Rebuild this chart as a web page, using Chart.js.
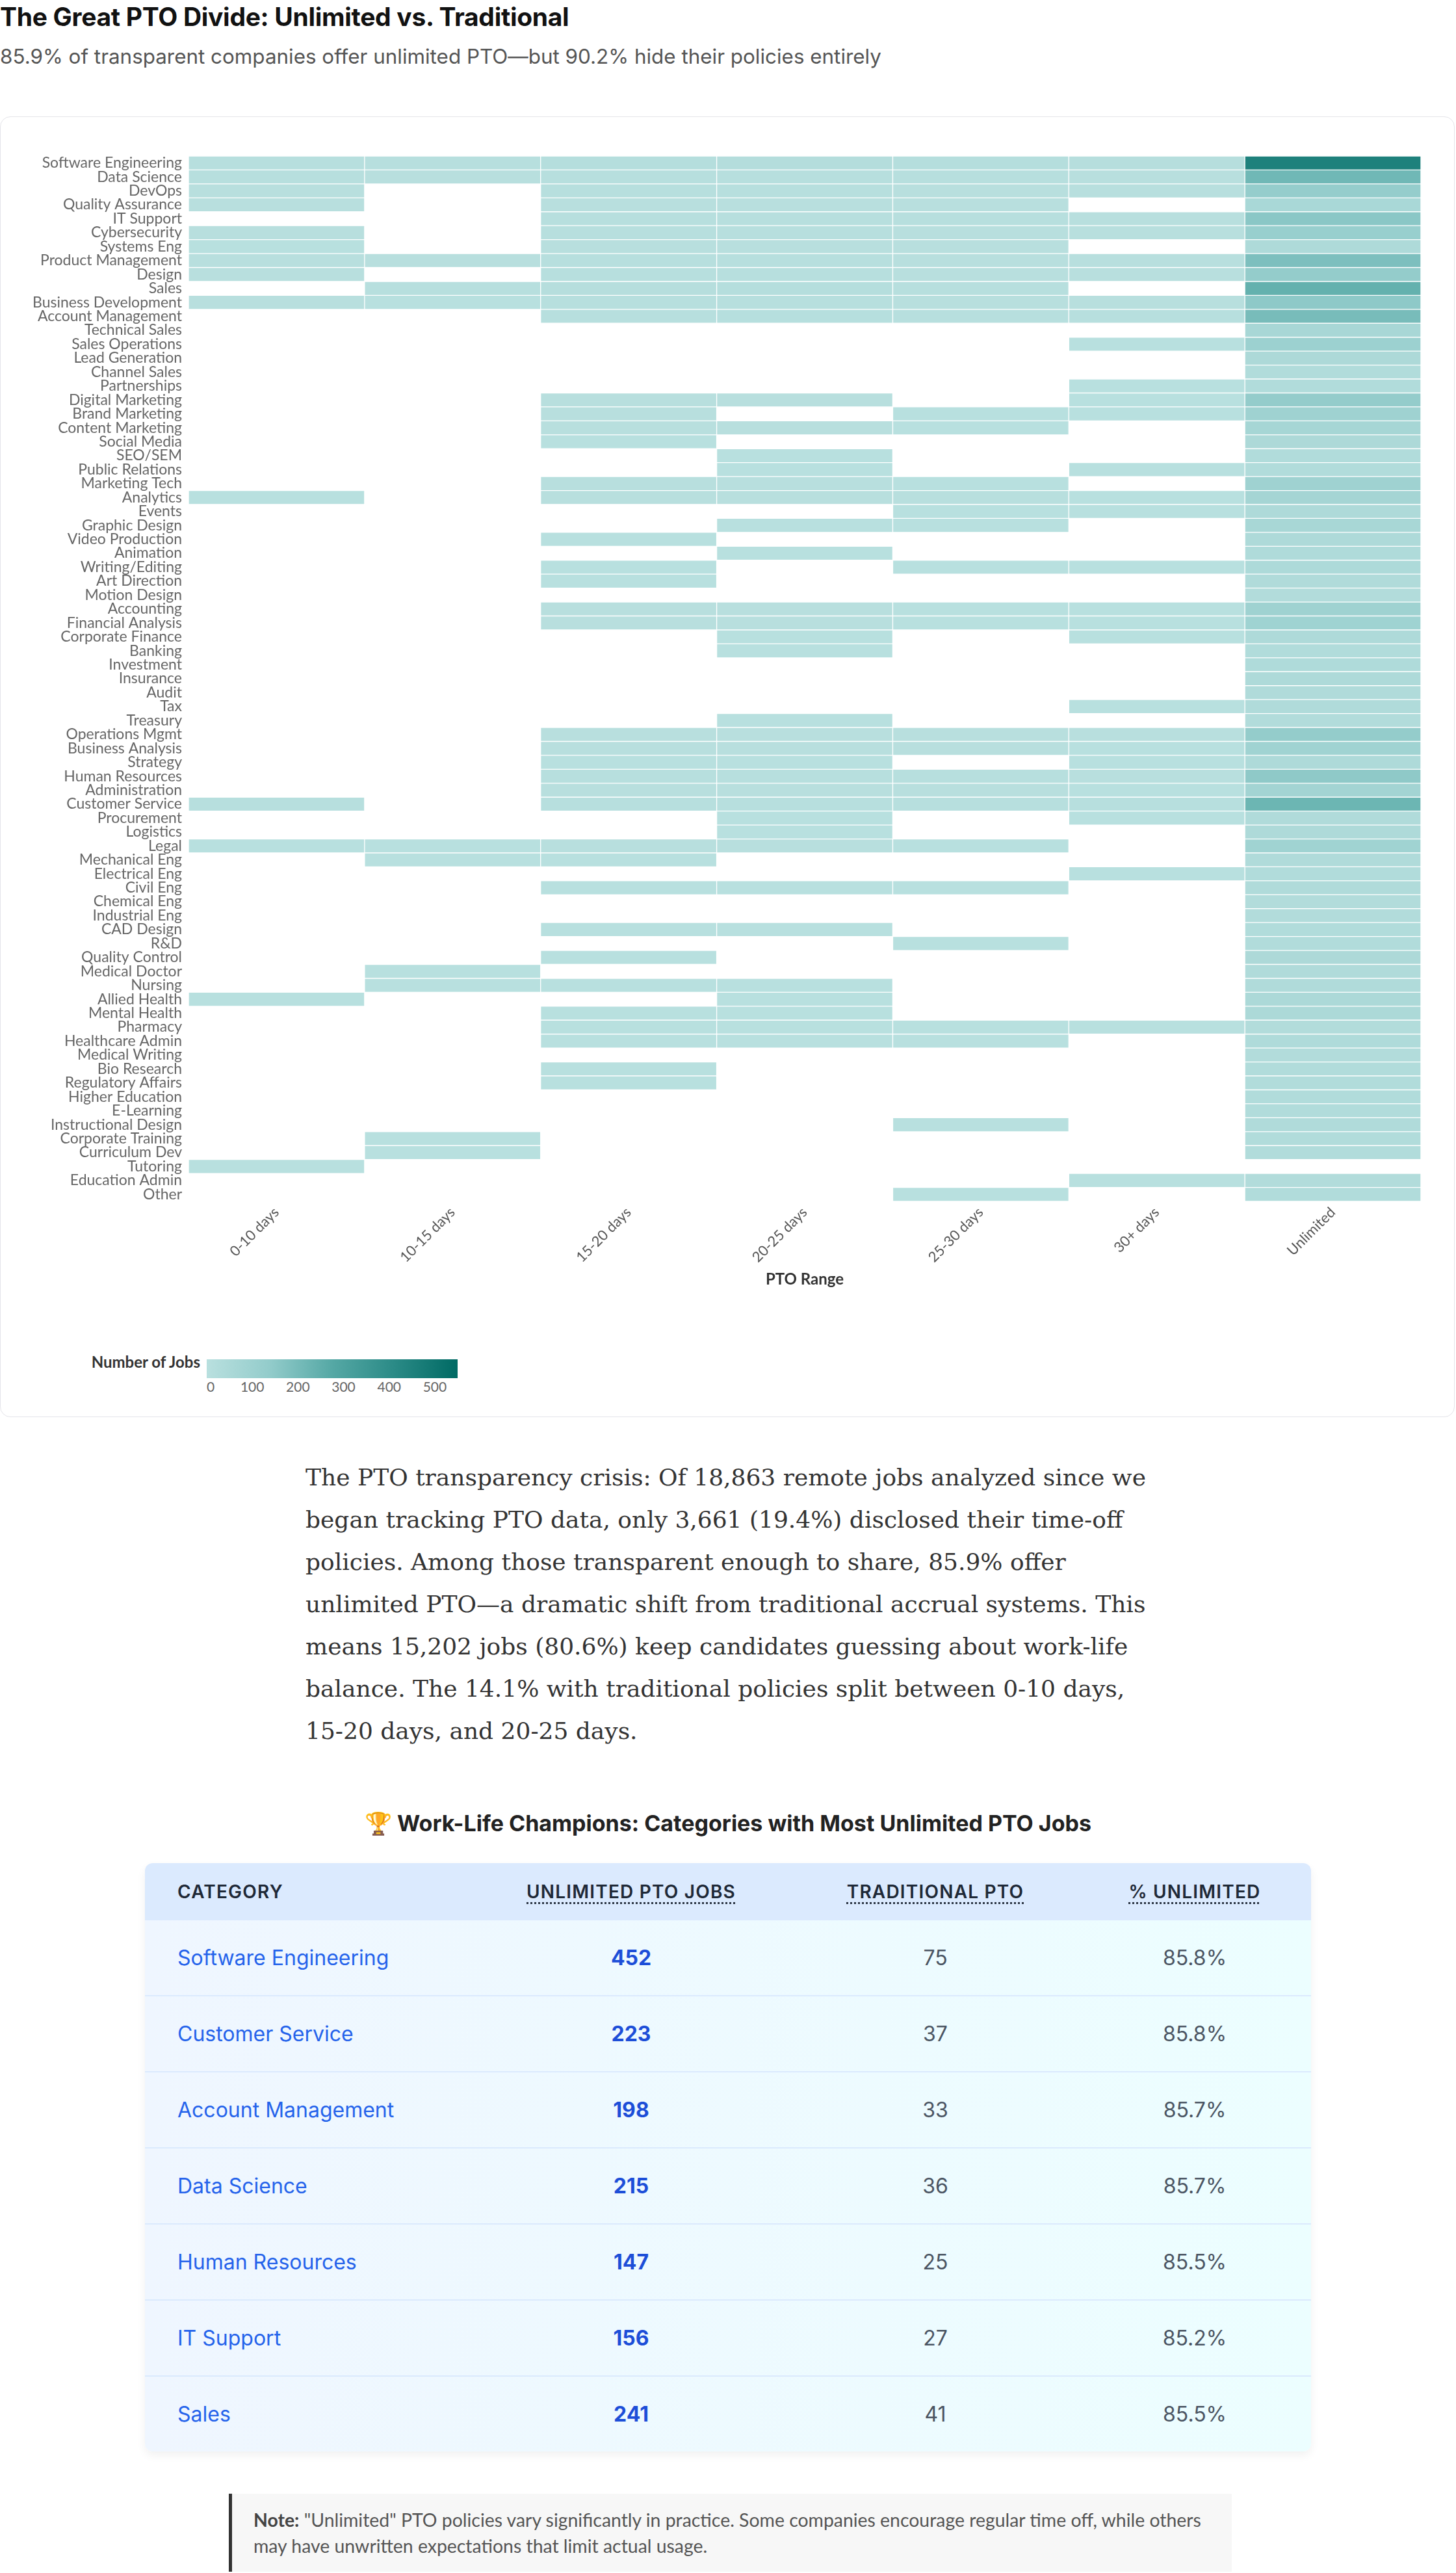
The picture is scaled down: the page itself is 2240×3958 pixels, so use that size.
<!DOCTYPE html>
<html>
<head>
<meta charset="utf-8">
<title>The Great PTO Divide</title>
<script src="https://cdn.jsdelivr.net/npm/chart.js@4.4.1/dist/chart.umd.min.js"></script>
<style>
  body { margin: 0; width: 2240px; height: 3958px; position: relative; background: #fff; overflow: hidden; font-family: Inter, sans-serif; }
  h1 { position: absolute; left: 0; top: 6px; margin: 0; font: 700 39px/39px Inter, sans-serif; color: #111; letter-spacing: -0.3px; white-space: nowrap; }
  .sub { position: absolute; left: 0; top: 72px; margin: 0; font: 400 31.4px/31px Inter, sans-serif; color: #555; white-space: nowrap; }
  .card { position: absolute; left: 0; top: 179px; width: 2238px; height: 2001px; box-sizing: border-box; border: 1px solid #e4e4e9; border-radius: 16px; background: #fff; }
  .chart-box { position: absolute; left: 0; top: 0; width: 2236px; height: 1803px; }
  .legend-title { position: absolute; right: calc(2236px - 307px); top: 1899px; font: 700 24px/32px Lato, sans-serif; color: #333; white-space: nowrap; }
  .legend-bar { position: absolute; left: 317px; top: 1911px; width: 386px; height: 29px; }
  .legend-tick { position: absolute; top: 1940px; font: 400 21px/26px Lato, sans-serif; color: #666; transform: translateX(-50%); }
  .legend-tick.first { transform: none; }
  .story { position: absolute; left: 470px; top: 2240px; width: 1300px; margin: 0; font: 400 36px/65px 'DejaVu Serif', Georgia, serif; color: #333; }
  .tbl-title { position: absolute; left: 0; width: 2240px; top: 2785px; margin: 0; text-align: center; font: 700 34px/40px Inter, sans-serif; color: #222; }
  .tbl { position: absolute; left: 223px; top: 2866px; width: 1794px; border-radius: 12px; overflow: hidden; box-shadow: 0 6px 14px rgba(0,0,0,0.06); font-family: Inter, sans-serif; }
  .row { display: flex; align-items: center; box-sizing: border-box; height: 117px; background: linear-gradient(to right, #eff6ff, #ecfeff); border-bottom: 2px solid #dbeafe; }
  .row:last-child { border-bottom: none; height: 115px; }
  .row.head { height: 88px; background: #dbeafe; border-bottom: none; }
  .row div { text-align: center; }
  .c1 { width: 500px; padding-left: 50px; box-sizing: border-box; text-align: left !important; }
  .c2 { width: 496px; } .c3 { width: 440px; } .c4 { width: 358px; }
  .head div { font-size: 28px; font-weight: 600; letter-spacing: 1.2px; color: #1f2937; text-transform: uppercase; }
  .head .u { text-decoration: underline dotted; text-underline-offset: 6px; }
  .row:not(.head) div { font-size: 32px; color: #4b5563; }
  .row:not(.head) .c1 { color: #2563eb; }
  .row:not(.head) .c2 { color: #1d4ed8; font-weight: 700; }
  .note { position: absolute; left: 352px; top: 3836px; width: 1543px; box-sizing: border-box; border-left: 5px solid #333; background: #f7f7f7; padding: 20px 22px 20px 33px; font: 400 28.4px/40px Lato, sans-serif; color: #555; }
  .note b { color: #444; }
</style>
</head>
<body>
<h1>The Great PTO Divide: Unlimited vs. Traditional</h1>
<p class="sub">85.9% of transparent companies offer unlimited PTO—but 90.2% hide their policies entirely</p>

<div class="card">
  <div class="chart-box"><canvas id="heatmap"></canvas></div>
  <div class="legend-title">Number of Jobs</div>
  <div class="legend-bar" id="legendBar"></div>
  <div id="legendTicks"></div>
</div>

<p class="story">The PTO transparency crisis: Of 18,863 remote jobs analyzed since we began tracking PTO data, only 3,661 (19.4%) disclosed their time-off policies. Among those transparent enough to share, 85.9% offer unlimited PTO—a dramatic shift from traditional accrual systems. This means 15,202 jobs (80.6%) keep candidates guessing about work-life balance. The 14.1% with traditional policies split between 0-10 days, 15-20 days, and 20-25 days.</p>

<h3 class="tbl-title">🏆 Work-Life Champions: Categories with Most Unlimited PTO Jobs</h3>
<div class="tbl" id="champions"></div>

<div class="note"><b>Note:</b> "Unlimited" PTO policies vary significantly in practice. Some companies encourage regular time off, while others may have unwritten expectations that limit actual usage.</div>

<script>
const categories = [
  'Software Engineering', 'Data Science', 'DevOps', 'Quality Assurance', 'IT Support',
  'Cybersecurity', 'Systems Eng', 'Product Management', 'Design', 'Sales',
  'Business Development', 'Account Management', 'Technical Sales', 'Sales Operations', 'Lead Generation',
  'Channel Sales', 'Partnerships', 'Digital Marketing', 'Brand Marketing', 'Content Marketing',
  'Social Media', 'SEO/SEM', 'Public Relations', 'Marketing Tech', 'Analytics',
  'Events', 'Graphic Design', 'Video Production', 'Animation', 'Writing/Editing',
  'Art Direction', 'Motion Design', 'Accounting', 'Financial Analysis', 'Corporate Finance',
  'Banking', 'Investment', 'Insurance', 'Audit', 'Tax',
  'Treasury', 'Operations Mgmt', 'Business Analysis', 'Strategy', 'Human Resources',
  'Administration', 'Customer Service', 'Procurement', 'Logistics', 'Legal',
  'Mechanical Eng', 'Electrical Eng', 'Civil Eng', 'Chemical Eng', 'Industrial Eng',
  'CAD Design', 'R&D', 'Quality Control', 'Medical Doctor', 'Nursing',
  'Allied Health', 'Mental Health', 'Pharmacy', 'Healthcare Admin', 'Medical Writing',
  'Bio Research', 'Regulatory Affairs', 'Higher Education', 'E-Learning', 'Instructional Design',
  'Corporate Training', 'Curriculum Dev', 'Tutoring', 'Education Admin', 'Other'
];

const ptoRanges = ['0-10 days', '10-15 days', '15-20 days', '20-25 days', '25-30 days', '30+ days', 'Unlimited'];

// job counts per category, one array per PTO range (null = no jobs)
const days0to10 = [
  9, 6, 5, 4, null, 4, 3, 5, 4, null, 4, null, null, null, null,
  null, null, null, null, null, null, null, null, null, 3, null, null, null, null, null,
  null, null, null, null, null, null, null, null, null, null, null, null, null, null, null,
  null, 6, null, null, 3, null, null, null, null, null, null, null, null, null, null,
  3, null, null, null, null, null, null, null, null, null, null, null, 3, null, null
];
const days10to15 = [
  8, 5, null, null, null, null, null, 4, null, 8, 3, null, null, null, null,
  null, null, null, null, null, null, null, null, null, null, null, null, null, null, null,
  null, null, null, null, null, null, null, null, null, null, null, null, null, null, null,
  null, null, null, null, 3, 3, null, null, null, null, null, null, null, 3, 3,
  null, null, null, null, null, null, null, null, null, null, 3, 3, null, null, null
];
const days15to20 = [
  15, 8, 7, 5, 8, 6, 5, 7, 6, 12, 6, 9, null, null, null,
  null, null, 5, 4, 4, 3, null, null, 4, 4, null, null, 3, null, 3,
  3, null, 4, 4, null, null, null, null, null, null, null, 5, 4, 3, 7,
  4, 9, null, null, 4, 3, null, 3, null, null, 3, null, 3, null, 3,
  null, 3, 3, 3, null, 3, 3, null, null, null, null, null, null, null, null
];
const days20to25 = [
  19, 7, 6, 5, 8, 6, 5, 6, 6, 13, 6, 10, null, null, null,
  null, null, 4, null, 4, null, 3, 3, 4, 4, null, 3, null, 2, null,
  null, null, 4, 4, 3, 3, null, null, null, null, 2, 5, 4, 3, 7,
  4, 9, 3, 3, 4, null, null, 3, null, null, 3, null, null, null, 3,
  3, 3, 3, 3, null, null, null, null, null, null, null, null, null, null, null
];
const days25to30 = [
  13, 6, 5, 4, 6, 5, 4, 5, 5, 8, 5, 8, null, null, null,
  null, null, null, 3, 3, null, null, null, 3, 4, 3, 3, null, null, 3,
  null, null, 3, 3, null, null, null, null, null, null, null, 4, 4, null, 6,
  4, 7, null, null, 3, null, null, 3, null, null, null, 3, null, null, null,
  null, null, 3, 3, null, null, null, null, null, 3, null, null, null, null, 3
];
const days30plus = [
  11, 4, 4, null, 5, 4, null, 4, 4, null, 4, 6, null, 3, null,
  null, 3, 3, 3, null, null, null, 2, null, 3, 3, null, null, null, 2,
  null, null, 3, 3, 3, null, null, null, null, 2, null, 4, 3, 3, 5,
  3, 6, 2, null, null, null, 3, null, null, null, null, null, null, null, null,
  null, null, 2, null, null, null, null, null, null, null, null, null, null, 2, null
];
const unlimited = [
  452, 215, 130, 58, 156, 118, 38, 185, 135, 241, 148, 198, 62, 105, 45,
  28, 30, 135, 95, 70, 45, 30, 30, 95, 72, 40, 60, 38, 35, 42,
  32, 26, 95, 92, 40, 30, 35, 38, 32, 32, 26, 135, 90, 40, 147,
  80, 223, 32, 38, 90, 32, 30, 32, 26, 26, 30, 30, 45, 32, 32,
  48, 48, 26, 35, 26, 30, 30, 30, 30, 32, 30, 30, null, 26, 30
];

const legendTicks = [0, 100, 200, 300, 400, 500];
const colorMax = 550;
const colorStops = [[0, '#b9e0df'], [137, '#93cccb'], [275, '#55a8a5'], [413, '#2a8a86'], [550, '#006a64']];

// table: categories with most unlimited PTO jobs
const champCategories = ['Software Engineering', 'Customer Service', 'Account Management', 'Data Science', 'Human Resources', 'IT Support', 'Sales'];
const champUnlimited = [452, 223, 198, 215, 147, 156, 241];
const champTraditional = [75, 37, 33, 36, 25, 27, 41];
const champPct = ['85.8%', '85.8%', '85.7%', '85.7%', '85.5%', '85.2%', '85.5%'];

function hexToRgb(h) {
  return [1, 3, 5].map(i => parseInt(h.slice(i, i + 2), 16));
}

function cellColor(v) {
  for (let i = 1; i < colorStops.length; i++) {
    const [v0, c0] = colorStops[i - 1];
    const [v1, c1] = colorStops[i];
    if (v <= v1 || i === colorStops.length - 1) {
      const t = Math.max(0, Math.min(1, (v - v0) / (v1 - v0)));
      const a = hexToRgb(c0), b = hexToRgb(c1);
      const rgb = a.map((x, k) => Math.round(x + (b[k] - x) * t));
      return `rgb(${rgb.join(',')})`;
    }
  }
}

Chart.defaults.font.family = 'Lato, sans-serif';

const columns = [days0to10, days10to15, days15to20, days20to25, days25to30, days30plus, unlimited];

new Chart(document.getElementById('heatmap'), {
  type: 'bar',
  data: {
    labels: categories,
    datasets: columns.map((col, j) => ({
      label: ptoRanges[j],
      data: col.map(v => v == null ? null : [j, j + 1]),
      backgroundColor: col.map(v => v == null ? 'rgba(0,0,0,0)' : cellColor(v)),
      borderColor: '#ffffff',
      borderWidth: 1,
      borderSkipped: false,
      barPercentage: 1,
      categoryPercentage: 1,
      grouped: false
    }))
  },
  options: {
    indexAxis: 'y',
    responsive: true,
    maintainAspectRatio: false,
    animation: false,
    layout: { padding: { top: 60, right: 51, bottom: 0, left: 0 } },
    plugins: {
      legend: { display: false },
      tooltip: { enabled: false }
    },
    scales: {
      x: {
        type: 'linear',
        min: 0,
        max: 7,
        grid: { display: false, drawTicks: false },
        border: { display: false },
        afterBuildTicks: axis => { axis.ticks = ptoRanges.map((_, i) => ({ value: i + 0.5 })); },
        afterFit: axis => { axis.height = 135; },
        ticks: {
          autoSkip: false,
          maxRotation: 45,
          minRotation: 45,
          padding: 4,
          color: '#555',
          font: { size: 22 },
          callback: v => ptoRanges[Math.floor(v)]
        },
        title: { display: true, text: 'PTO Range', color: '#333', font: { size: 24, weight: 'bold' }, padding: 0 }
      },
      y: {
        grid: { display: false, drawTicks: false },
        border: { display: false },
        afterFit: axis => { axis.width = 289; },
        ticks: { autoSkip: false, padding: 10, color: '#666', font: { size: 23 } }
      }
    }
  }
});

// colour legend
const bar = document.getElementById('legendBar');
bar.style.background = 'linear-gradient(to right, ' +
  colorStops.map(([v, c]) => `${c} ${(v / colorMax * 100).toFixed(1)}%`).join(', ') + ')';
const tickBox = document.getElementById('legendTicks');
legendTicks.forEach((t, i) => {
  const el = document.createElement('div');
  el.className = 'legend-tick' + (i === 0 ? ' first' : '');
  el.style.left = (317 + t / colorMax * 386) + 'px';
  el.textContent = t;
  tickBox.appendChild(el);
});

// champions table
const tbl = document.getElementById('champions');
let html = '<div class="row head"><div class="c1">Category</div><div class="c2"><span class="u">Unlimited PTO Jobs</span></div>' +
  '<div class="c3"><span class="u">Traditional PTO</span></div><div class="c4"><span class="u">% Unlimited</span></div></div>';
champCategories.forEach((c, i) => {
  html += `<div class="row"><div class="c1">${c}</div><div class="c2">${champUnlimited[i]}</div>` +
    `<div class="c3">${champTraditional[i]}</div><div class="c4">${champPct[i]}</div></div>`;
});
tbl.innerHTML = html;
</script>
</body>
</html>
